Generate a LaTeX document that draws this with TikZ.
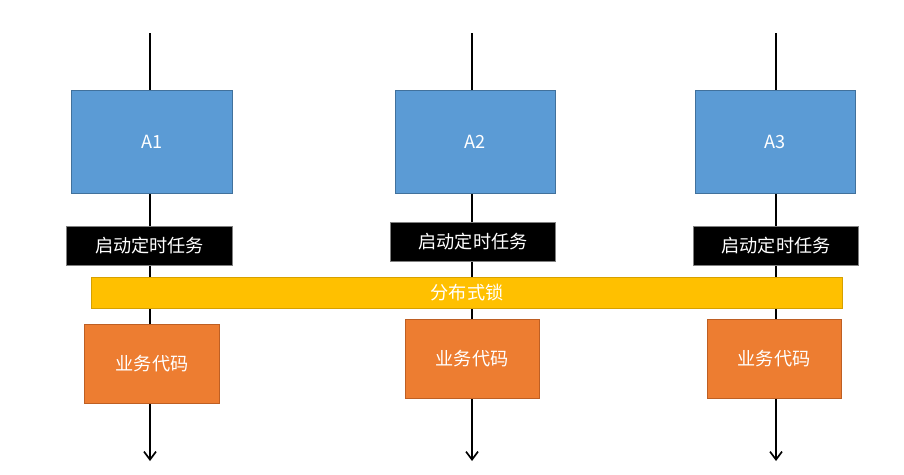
\documentclass[tikz,border=0pt]{standalone}
\usepackage{fontspec}
\setmainfont{Noto Sans CJK SC}
\usetikzlibrary{arrows.meta}
\usetikzlibrary{backgrounds}
\tikzset{>={Straight Barb[length=2.4mm,width=3.6mm]}}
\definecolor{hostblue}{RGB}{91,155,213}
\definecolor{hostblueline}{RGB}{65,113,156}
\definecolor{lockyellow}{RGB}{255,192,0}
\definecolor{lockyellowline}{RGB}{214,160,0}
\definecolor{codeorange}{RGB}{237,125,49}
\definecolor{codeorangeline}{RGB}{190,95,35}
\tikzstyle{hostbox}=[draw=hostblueline,fill=hostblue,line width=0.3mm,minimum width=48mm,minimum height=30.9mm,text=white]
\tikzstyle{taskbox}=[draw=gray,fill=black,line width=0.3mm,minimum width=49.5mm,minimum height=11.7mm,text=white]
\tikzstyle{lockbar}=[draw=lockyellowline,fill=lockyellow,line width=0.3mm,minimum width=225mm,minimum height=9.3mm,text=white]
\tikzstyle{codebox}=[draw=codeorangeline,fill=codeorange,line width=0.3mm,minimum width=40.2mm,minimum height=23.7mm,text=white]
\tikzstyle{flowline}=[draw=black,line width=0.5mm]
\begin{document}
\begin{tikzpicture}[x=0.03cm,y=-0.03cm,font=\fontsize{15.5}{18}\selectfont]
    \useasboundingbox (0,0) rectangle (904,474);

    % hosts
    \node[hostbox] (a1) at (152,141.5) {A1};
    \node[hostbox] (a2) at (475,141.5) {A2};
    \node[hostbox] (a3) at (775,141.5) {A3};

    % scheduled tasks
    \node[taskbox] (k1) at (149.5,245.5) {启动定时任务};
    \node[taskbox] (k2) at (473,241.5) {启动定时任务};
    \node[taskbox] (k3) at (776,245.5) {启动定时任务};

    \node[lockbar] (lock) at (467,292.5) {分布式锁};

    % business code
    \node[codebox] (c1) at (152,363.5) {业务代码};
    \node[codebox] (c2) at (472,358.5) {业务代码};
    \node[codebox] (c3) at (774,358.5) {业务代码};

    \coordinate (t1) at (150,33);
    \coordinate (t2) at (472,33);
    \coordinate (t3) at (776,33);
    \coordinate (b1) at (150,461);
    \coordinate (b2) at (472,461);
    \coordinate (b3) at (776,461);

    \begin{scope}[on background layer]
    \draw[flowline] (t1) -- (t1 |- a1.north);
    \draw[flowline] (t1 |- a1.south) -- (t1 |- k1.north);
    \draw[flowline] (t1 |- k1.south) -- (t1 |- c1.north);
    \draw[flowline,->] (t1 |- c1.south) -- (b1);
    \draw[flowline] (t2) -- (t2 |- a2.north);
    \draw[flowline] (t2 |- a2.south) -- (t2 |- k2.north);
    \draw[flowline] (t2 |- k2.south) -- (t2 |- c2.north);
    \draw[flowline,->] (t2 |- c2.south) -- (b2);
    \draw[flowline] (t3) -- (t3 |- a3.north);
    \draw[flowline] (t3 |- a3.south) -- (t3 |- k3.north);
    \draw[flowline] (t3 |- k3.south) -- (t3 |- c3.north);
    \draw[flowline,->] (t3 |- c3.south) -- (b3);
    \end{scope}
\end{tikzpicture}
\end{document}
